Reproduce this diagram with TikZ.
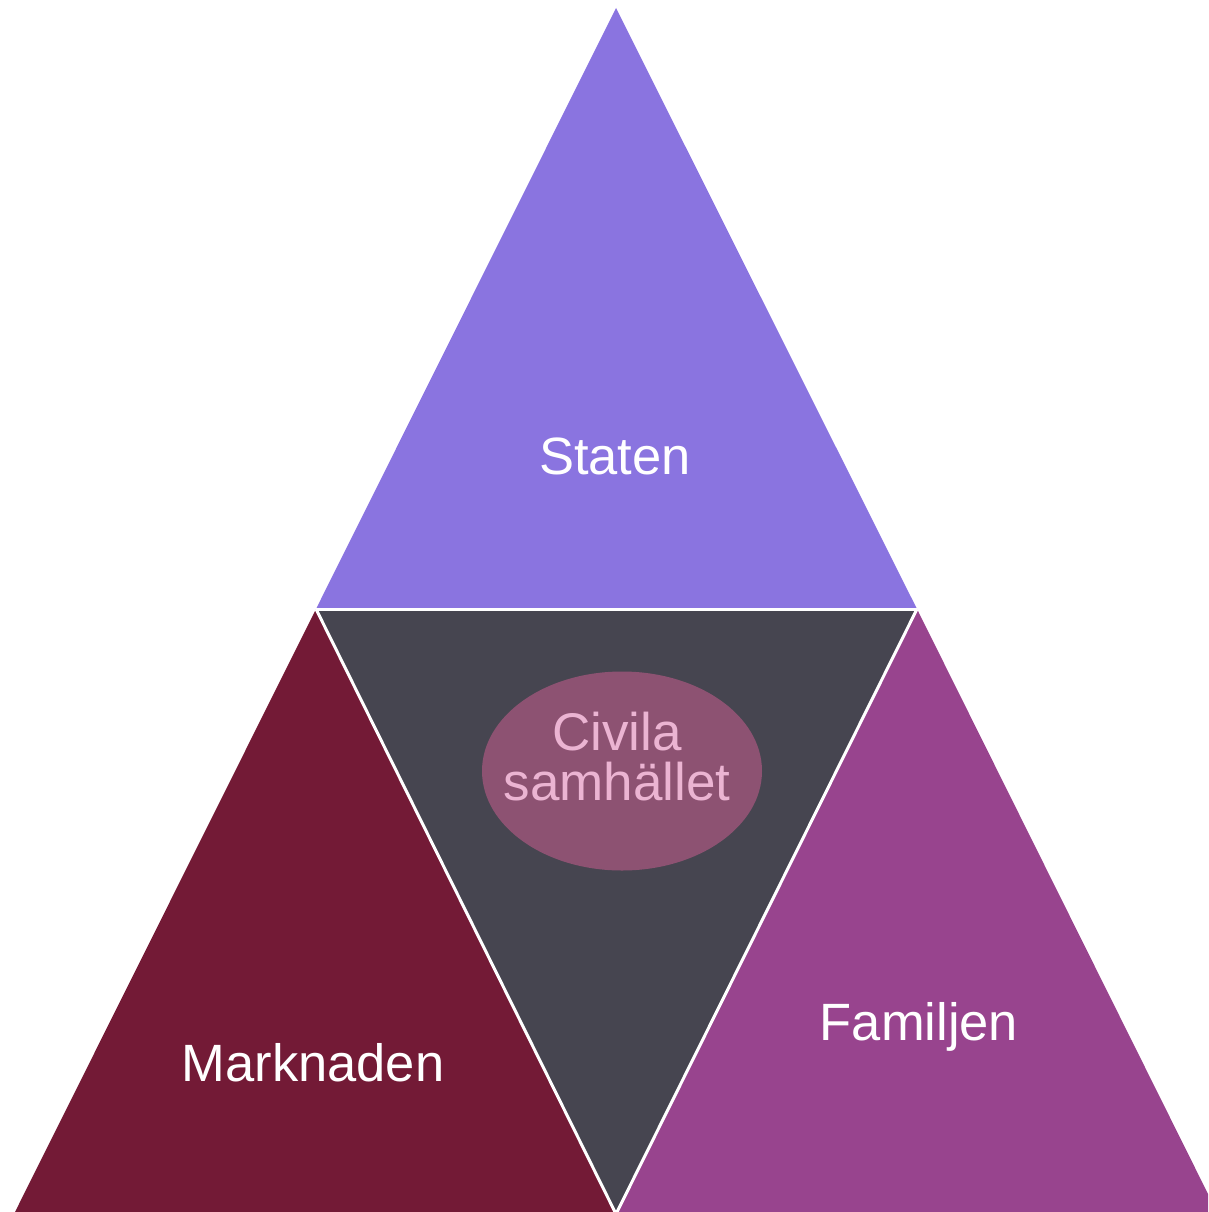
\documentclass[tikz,border=0pt]{standalone}
\usepackage{fontspec}
\setmainfont{Liberation Sans}
\usepackage{xcolor}
\usetikzlibrary{shapes.geometric}
\definecolor{statenColor}{HTML}{8A74E0}
\definecolor{civilColor}{HTML}{464550}
\definecolor{marknadColor}{HTML}{731A36}
\definecolor{familjColor}{HTML}{98448E}
\definecolor{ovalColor}{HTML}{8D5272}
\definecolor{ovalText}{HTML}{EBB4D2}

\begin{document}
\begin{tikzpicture}[x=1pt,y=-1pt,
    part/.style={draw=white,line width=3pt,line join=miter},
    main label/.style={text=white,font=\fontsize{52.5}{56}\selectfont},
    oval node/.style={ellipse,fill=ovalColor,minimum width=280pt,minimum height=199pt,inner sep=0pt}]
                \useasboundingbox (0,0) rectangle (1208,1212);
                \clip (0,0) rectangle (1208,1212);
                % corners
                \coordinate (top) at (616,8);
                \coordinate (left) at (316,609);
                \coordinate (right) at (917,609);
                \coordinate (bottom) at (616,1214);
                \coordinate (far left) at (14,1214);
                \coordinate (far right) at (1218,1214);

                \fill[statenColor] (top) -- (left) -- (right) -- cycle;
                \fill[civilColor] (left) -- (right) -- (bottom) -- cycle;
                \fill[marknadColor] (left) -- (bottom) -- (far left) -- cycle;
                \fill[familjColor] (right) -- (far right) -- (bottom) -- cycle;
                \draw[part] (left) -- (right);
                \draw[part] (left) -- (bottom) -- (right);

                \node[main label] (staten) at (615,456) {Staten};
                \node[main label] (marknaden) at (313,1063) {Marknaden};
                \node[main label] (familjen) at (919,1027) {Familjen};
                \node[oval node] (oval) at (622,771) {};
                \node[text=ovalText,align=center,font=\fontsize{53}{50}\selectfont] (civila) at (617,757) {Civila\\samhället};
            \end{tikzpicture}
\end{document}
